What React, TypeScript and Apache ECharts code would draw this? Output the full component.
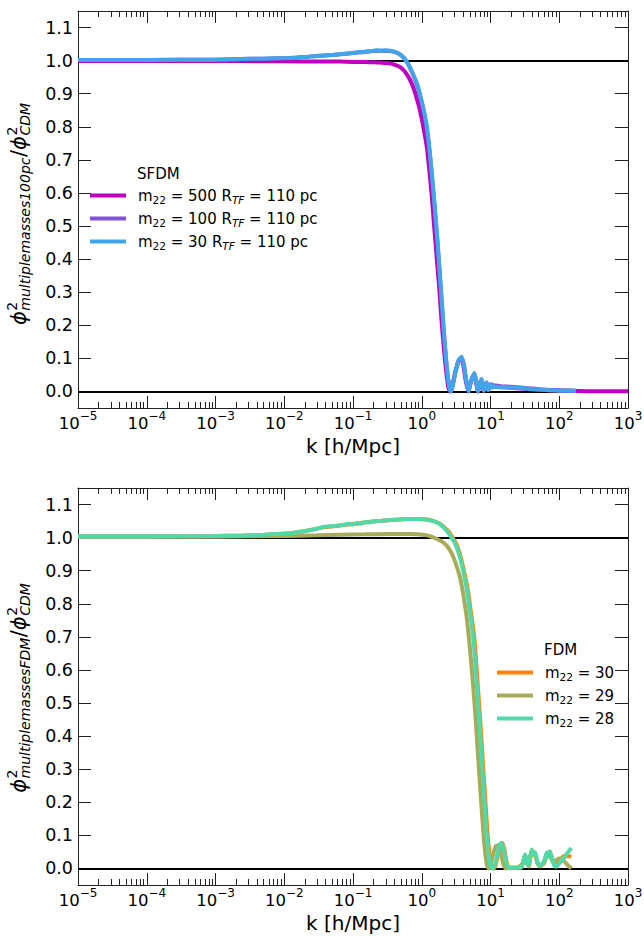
import React, { useEffect, useRef } from 'react';
import * as echarts from 'echarts';

const FONT = 'DejaVu Sans';

// ---- axes / ticks ----
const xMajorTicks = [1e-5, 1e-4, 1e-3, 1e-2, 1e-1, 1, 10, 100, 1000];
const minorMultipliers = [2, 3, 4, 5, 6, 7, 8, 9];
const xMinorTicks = xMajorTicks.slice(0, -1).flatMap((d) => minorMultipliers.map((m) => m * d));
const yTicks = [0, 0.1, 0.2, 0.3, 0.4, 0.5, 0.6, 0.7, 0.8, 0.9, 1.0, 1.1];
const refLines = [0, 1];

// ---- top panel: SFDM ----
const sfdmTitle = 'SFDM';
const sfdmNames = ['m22=500', 'm22=100', 'm22=30'];
const sfdmMass = ['500', '100', '30'];
const sfdmColors = ['#c000c0', '#8052d4', '#42a5e9'];

const sfdm500: [number, number][] = [
  [1e-5, 0.999], [1e-4, 0.999], [1e-3, 0.999], [5e-3, 0.998], [1e-2, 0.998], [3e-2, 0.997], [6.5e-2, 0.997],
  [0.1, 0.996], [0.15, 0.996], [0.2, 0.995], [0.25, 0.994], [0.31, 0.993], [0.36, 0.991], [0.42, 0.986],
  [0.48, 0.981], [0.55, 0.97], [0.63, 0.953], [0.7, 0.935], [0.78, 0.91], [0.86, 0.88], [0.94, 0.85],
  [1.03, 0.81], [1.12, 0.77], [1.2, 0.73], [1.3, 0.66], [1.4, 0.59], [1.5, 0.51], [1.6, 0.44], [1.7, 0.37],
  [1.8, 0.31], [1.9, 0.24], [2.0, 0.18], [2.1, 0.13], [2.2, 0.085], [2.3, 0.05], [2.4, 0.02], [2.5, 0.005],
  [2.6, 0.0], [2.75, 0.012], [3.05, 0.055], [3.4, 0.09], [3.75, 0.1], [4.05, 0.075], [4.4, 0.028], [4.75, 0.0],
  [5.15, 0.028], [5.75, 0.052], [6.15, 0.028], [6.55, 0.0], [6.95, 0.02], [7.35, 0.035], [7.65, 0.018],
  [7.95, 0.002], [8.35, 0.016], [8.75, 0.025], [9.0, 0.014], [9.25, 0.004], [9.65, 0.014], [10.1, 0.019],
  [10.6, 0.012], [11.1, 0.015], [12, 0.014], [14, 0.013], [18, 0.012], [24, 0.01], [32, 0.008], [45, 0.006],
  [65, 0.004], [100, 0.003], [150, 0.002], [250, 0.001], [500, 0.0005], [1000, 0.0003],
];

const sfdm100: [number, number][] = [
  [1e-5, 1.002], [1e-4, 1.002], [1e-3, 1.003], [2.3e-3, 1.005], [5e-3, 1.006], [1.2e-2, 1.008], [2e-2, 1.011],
  [3.3e-2, 1.015], [5e-2, 1.017], [6.5e-2, 1.019], [0.1, 1.023], [0.14, 1.026], [0.19, 1.029], [0.26, 1.03],
  [0.35, 1.029], [0.45, 1.022], [0.55, 1.008], [0.66, 0.982], [0.8, 0.942], [0.94, 0.896], [1.12, 0.825],
  [1.3, 0.725], [1.5, 0.585], [1.7, 0.445], [1.9, 0.305], [2.1, 0.175], [2.3, 0.078], [2.5, 0.017], [2.65, 0.0],
  [2.8, 0.016], [3.1, 0.06], [3.45, 0.094], [3.8, 0.102], [4.1, 0.08], [4.45, 0.032], [4.8, 0.002], [5.2, 0.03],
  [5.8, 0.054], [6.2, 0.031], [6.6, 0.003], [7.0, 0.023], [7.4, 0.037], [7.7, 0.021], [8.0, 0.005], [8.4, 0.02],
  [8.8, 0.027], [9.3, 0.008], [9.7, 0.018], [10.2, 0.022], [11, 0.019], [12, 0.018], [14, 0.016], [20, 0.014],
  [30, 0.011], [50, 0.007], [100, 0.004], [175, 0.002],
];

const sfdm30: [number, number][] = [
  [1e-5, 1.002], [1e-4, 1.002], [1e-3, 1.003], [2.3e-3, 1.005], [5e-3, 1.006], [1.2e-2, 1.008], [2e-2, 1.011],
  [3.3e-2, 1.015], [5e-2, 1.017], [6.5e-2, 1.019], [0.085, 1.022], [0.1, 1.023], [0.12, 1.026], [0.14, 1.025],
  [0.16, 1.028], [0.19, 1.029], [0.22, 1.031], [0.26, 1.03], [0.3, 1.031], [0.35, 1.03], [0.4, 1.027],
  [0.45, 1.023], [0.5, 1.017], [0.55, 1.009], [0.6, 0.998], [0.66, 0.984], [0.73, 0.964], [0.8, 0.945],
  [0.87, 0.925], [0.94, 0.9], [1.03, 0.865], [1.12, 0.83], [1.2, 0.795], [1.3, 0.73], [1.4, 0.66], [1.5, 0.59],
  [1.6, 0.52], [1.7, 0.45], [1.8, 0.38], [1.9, 0.31], [2.0, 0.245], [2.1, 0.18], [2.2, 0.127], [2.3, 0.08],
  [2.4, 0.045], [2.5, 0.018], [2.65, 0.0], [2.8, 0.015], [3.1, 0.06], [3.45, 0.095], [3.8, 0.105], [4.1, 0.08],
  [4.45, 0.03], [4.8, 0.0], [5.2, 0.03], [5.8, 0.056], [6.2, 0.03], [6.6, 0.0], [7.0, 0.022], [7.4, 0.038],
  [7.7, 0.02], [8.0, 0.002], [8.4, 0.018], [8.8, 0.027], [9.05, 0.015], [9.3, 0.004], [9.7, 0.015], [10.2, 0.02],
  [10.7, 0.012], [11.2, 0.016], [12, 0.014], [14, 0.013], [18, 0.012], [24, 0.011], [32, 0.009], [41, 0.007],
  [60, 0.005], [90, 0.003], [130, 0.002], [175, 0.002],
];

// ---- bottom panel: FDM ----
const fdmTitle = 'FDM';
const fdmNames = ['m22=30 FDM', 'm22=29 FDM', 'm22=28 FDM'];
const fdmMass = ['30', '29', '28'];
const fdmColors = ['#ff8500', '#a8ab58', '#52d9a9'];

const fdm30: [number, number][] = [
  [1e-5, 1.004], [1e-4, 1.004], [1e-3, 1.005], [2.3e-3, 1.006], [5e-3, 1.009], [1.2e-2, 1.013], [2e-2, 1.02],
  [3.7e-2, 1.031], [5.5e-2, 1.035], [8.5e-2, 1.04], [0.12, 1.043], [0.15, 1.046], [0.19, 1.049], [0.26, 1.051],
  [0.4, 1.054], [0.6, 1.056], [0.9, 1.056], [1.2, 1.055], [1.5, 1.05], [1.8, 1.043], [2.1, 1.032], [2.5, 1.016],
  [2.8, 1.0], [3.1, 0.985], [3.4, 0.965], [3.7, 0.94], [4.1, 0.9], [4.65, 0.845], [5.15, 0.78], [5.8, 0.7],
  [6.3, 0.6], [6.8, 0.5], [7.45, 0.38], [7.85, 0.3], [8.15, 0.25], [8.7, 0.16], [9.1, 0.097], [9.6, 0.05],
  [10.1, 0.018], [10.6, 0.002], [11.1, 0.0], [11.8, 0.008], [12.8, 0.04], [13.9, 0.072], [14.9, 0.077],
  [15.9, 0.058], [17.1, 0.02], [18.5, 0.002], [25, 0.003], [30, 0.018], [32, 0.04], [34, 0.02], [36, 0.006],
  [40, 0.055], [44, 0.045], [48, 0.018], [53, 0.006], [60, 0.02], [66, 0.045], [73, 0.05], [80, 0.025],
  [90, 0.01], [100, 0.02], [115, 0.037], [130, 0.037], [150, 0.037],
];

const fdm29: [number, number][] = [
  [1e-5, 1.002], [1e-4, 1.002], [1e-3, 1.003], [1e-2, 1.005], [3e-2, 1.007], [6.5e-2, 1.009], [0.15, 1.01],
  [0.35, 1.011], [0.7, 1.011], [1.05, 1.009], [1.35, 1.004], [1.66, 0.996], [2.0, 0.987], [2.3, 0.976],
  [2.6, 0.96], [2.9, 0.94], [3.2, 0.915], [3.6, 0.88], [4.0, 0.83], [4.5, 0.76], [5.0, 0.67], [5.5, 0.57],
  [6.0, 0.47], [6.5, 0.36], [7.0, 0.26], [7.5, 0.17], [8.0, 0.09], [8.5, 0.035], [9.0, 0.006], [9.4, 0.0],
  [10, 0.01], [11, 0.045], [12, 0.068], [13, 0.07], [14, 0.05], [15.3, 0.015], [16.5, 0.0], [20, 0.002],
  [28, 0.003], [31, 0.035], [34, 0.012], [40, 0.05], [45, 0.04], [50, 0.01], [60, 0.015], [66, 0.04],
  [73, 0.045], [80, 0.02], [90, 0.025], [100, 0.03], [112, 0.027], [130, 0.012], [150, 0.0],
];

const fdm28: [number, number][] = [
  [1e-5, 1.004], [1e-4, 1.004], [1e-3, 1.005], [2.3e-3, 1.006], [5e-3, 1.009], [1.2e-2, 1.013], [2e-2, 1.02],
  [3e-2, 1.027], [3.7e-2, 1.032], [4.5e-2, 1.034], [5.5e-2, 1.035], [7e-2, 1.038], [8.5e-2, 1.041], [0.1, 1.04],
  [0.115, 1.044], [0.13, 1.042], [0.15, 1.047], [0.17, 1.046], [0.19, 1.049], [0.22, 1.05], [0.26, 1.051],
  [0.3, 1.052], [0.4, 1.054], [0.6, 1.056], [0.9, 1.056], [1.2, 1.054], [1.5, 1.049], [1.8, 1.042], [2.1, 1.03],
  [2.4, 1.016], [2.7, 1.0], [3.0, 0.985], [3.3, 0.965], [3.6, 0.94], [4.0, 0.9], [4.5, 0.845], [5.0, 0.78],
  [5.6, 0.7], [6.1, 0.6], [6.6, 0.5], [7.2, 0.38], [7.6, 0.3], [7.9, 0.25], [8.4, 0.16], [8.8, 0.097],
  [9.3, 0.05], [9.8, 0.018], [10.3, 0.002], [10.8, 0.0], [11.5, 0.008], [12.5, 0.04], [13.6, 0.072],
  [14.6, 0.077], [15.6, 0.058], [16.8, 0.02], [18.2, 0.002], [20, 0.002], [25, 0.003], [28, 0.003], [30, 0.02],
  [31.8, 0.042], [33.5, 0.025], [35.6, 0.008], [37.5, 0.03], [39.8, 0.057], [42, 0.04], [44.6, 0.048],
  [46.5, 0.035], [48.3, 0.02], [53, 0.008], [58, 0.016], [62, 0.03], [66, 0.048], [69, 0.035], [73, 0.052],
  [76, 0.04], [80, 0.027], [85, 0.008], [90.6, 0.005], [100, 0.015], [115, 0.03], [130, 0.045], [150, 0.062],
];

const axisColor = '#222';
const powRich = {
  b: { fontFamily: FONT, fontSize: 16.5, color: '#000', lineHeight: 28 },
  s: { fontFamily: FONT, fontSize: 12, color: '#000', lineHeight: 13, verticalAlign: 'top' },
};
const fmtPow = (v: number) => {
  const e = Math.round(Math.log10(v));
  const t = e < 0 ? '\u2212' + String(-e) : String(e);
  return `{b|10}{s|${t}}`;
};

const legendRich = {
  b: { fontFamily: FONT, fontSize: 15, color: '#000', lineHeight: 20 },
  s: { fontFamily: FONT, fontSize: 10.5, color: '#000', lineHeight: 10, verticalAlign: 'bottom' },
  si: { fontFamily: FONT, fontSize: 10.5, fontStyle: 'italic', color: '#000', lineHeight: 10, verticalAlign: 'bottom' },
};

function xAxes(g: number) {
  const common: any = {
    type: 'log', logBase: 10, gridIndex: g, min: 1e-5, max: 1e3,
    splitLine: { show: false }, minorTick: { show: false }, axisPointer: { show: false },
  };
  const line = { show: true, onZero: false, lineStyle: { color: axisColor, width: 1 } };
  const major = { show: true, inside: true, length: 12, customValues: xMajorTicks, lineStyle: { color: axisColor, width: 1 } };
  const minor = { show: true, inside: true, length: 6, customValues: xMinorTicks, lineStyle: { color: axisColor, width: 1 } };
  return [
    {
      ...common, position: 'bottom', axisLine: line, axisTick: major,
      axisLabel: { show: true, customValues: xMajorTicks, margin: 1.5, formatter: fmtPow, rich: powRich },
      name: 'k [h/Mpc]', nameLocation: 'middle', nameGap: 28,
      nameTextStyle: { fontFamily: FONT, fontSize: 20, color: '#000' },
    },
    { ...common, position: 'bottom', axisLine: { show: false, onZero: false }, axisTick: minor, axisLabel: { show: false } },
    { ...common, position: 'top', axisLine: line, axisTick: major, axisLabel: { show: false } },
    { ...common, position: 'top', axisLine: { show: false, onZero: false }, axisTick: minor, axisLabel: { show: false } },
  ];
}

function yAxes(g: number) {
  const common: any = {
    type: 'value', gridIndex: g, min: -0.05, max: 1.15,
    splitLine: { show: false }, axisPointer: { show: false },
    axisLine: { show: true, onZero: false, lineStyle: { color: axisColor, width: 1 } },
    axisTick: { show: true, inside: true, length: 13, customValues: yTicks, lineStyle: { color: axisColor, width: 1 } },
  };
  return [
    {
      ...common, position: 'left',
      axisLabel: {
        show: true, customValues: yTicks, margin: 5, fontFamily: FONT, fontSize: 17.5, color: '#000',
        formatter: (v: number) => v.toFixed(1),
      },
    },
    { ...common, position: 'right', axisLabel: { show: false } },
  ];
}

function curve(name: string, data: [number, number][], color: string, xi: number, yi: number) {
  return {
    type: 'line', name, data, xAxisIndex: xi, yAxisIndex: yi,
    showSymbol: false, symbol: 'none', smooth: 0.2, clip: true, z: 3,
    lineStyle: { color, width: 4 }, itemStyle: { color }, emphasis: { disabled: true },
  };
}

function refSeries(xi: number, yi: number) {
  return {
    type: 'line', name: 'ref' + xi, data: [], xAxisIndex: xi, yAxisIndex: yi, z: 2,
    markLine: {
      silent: true, z: 2, symbol: ['none', 'none'], label: { show: false },
      lineStyle: { color: '#000', width: 2, type: 'solid' },
      emphasis: { disabled: true },
      data: refLines.map((v) => ({ yAxis: v })),
    },
  };
}

function measure(text: string, font: string): number {
  const ctx = document.createElement('canvas').getContext('2d');
  if (!ctx) return text.length * 8;
  ctx.font = font;
  return ctx.measureText(text).width;
}

function yLabel(sub: string, baselineX: number, centerY: number) {
  const mainSize = 21;
  const supSize = 14;
  const subSize = 14;
  const PHI = '\u03d5';
  const fMain = `italic ${mainSize}px "${FONT}"`;
  const fSub = `italic ${subSize}px "${FONT}"`;
  const fSup = `${supSize}px "${FONT}"`;
  const fSlash = `${mainSize}px "${FONT}"`;
  const wPhi = measure(PHI, fMain);
  const wSub = measure(sub, fSub);
  const w2 = measure('2', fSup);
  const wSlash = measure('/', fSlash);
  const wCDM = measure('CDM', fSub);
  const x0 = 0;
  const x1 = x0 + wPhi + 0.5;
  const x2 = x1 + Math.max(wSub, w2) + 0.5;
  const x3 = x2 + wSlash;
  const x4 = x3 + wPhi + 0.5;
  const total = x4 + Math.max(wCDM, w2);
  const mainY = -0.346 * mainSize;
  const supY = -9 - 0.346 * supSize;
  const subY = 4 - 0.346 * subSize;
  const t = (text: string, x: number, y: number, size: number, italic: boolean) => ({
    type: 'text', x, y,
    style: {
      text, fontFamily: FONT, fontSize: size, fontStyle: italic ? 'italic' : 'normal',
      fill: '#000', align: 'left', verticalAlign: 'middle',
    },
  });
  return {
    type: 'group', x: baselineX, y: centerY + total / 2, rotation: Math.PI / 2, silent: true,
    children: [
      t(PHI, x0, mainY, mainSize, true),
      t('2', x1, supY, supSize, false),
      t(sub, x1, subY, subSize, true),
      t('/', x2, mainY, mainSize, false),
      t(PHI, x3, mainY, mainSize, true),
      t('2', x4, supY, supSize, false),
      t('CDM', x4, subY, subSize, true),
    ],
  };
}

export default function App() {
  const ref = useRef<HTMLDivElement>(null);
  useEffect(() => {
    if (!ref.current) return;
    const chart = echarts.init(ref.current, undefined, { renderer: 'svg' });
    const sfdmData = [sfdm500, sfdm100, sfdm30];
    const fdmData = [fdm30, fdm29, fdm28];
    const labelMap: Record<string, string> = {};
    sfdmNames.forEach((n, i) => {
      labelMap[n] = `{b|m}{s|22}{b| = ${sfdmMass[i]} R}{si|TF}{b| = 110 pc}`;
    });
    fdmNames.forEach((n, i) => {
      labelMap[n] = `{b|m}{s|22}{b| = ${fdmMass[i]}}`;
    });
    const legendCommon: any = {
      orient: 'vertical', padding: 0, itemWidth: 36, itemHeight: 4, itemGap: 5.5, icon: 'rect',
      selectedMode: false, formatter: (n: string) => labelMap[n] || n,
      textStyle: { fontFamily: FONT, fontSize: 15, color: '#000', padding: [0, 0, 0, 7], rich: legendRich },
    };
    const titleStyle = { fontFamily: FONT, fontSize: 15, fill: '#000', align: 'left', verticalAlign: 'middle' };
    const option: any = {
      animation: false,
      backgroundColor: '#fff',
      textStyle: { fontFamily: FONT },
      grid: [
        { left: 78, top: 11, width: 550, height: 397, containLabel: false, outerBoundsMode: 'none' },
        { left: 78, top: 488, width: 550, height: 397, containLabel: false, outerBoundsMode: 'none' },
      ],
      xAxis: [...xAxes(0), ...xAxes(1)],
      yAxis: [...yAxes(0), ...yAxes(1)],
      legend: [
        { ...legendCommon, data: sfdmNames, left: 90, top: 188 },
        { ...legendCommon, data: fdmNames, left: 497, top: 665 },
      ],
      series: [
        refSeries(0, 0),
        ...sfdmNames.map((n, i) => curve(n, sfdmData[i], sfdmColors[i], 0, 0)),
        refSeries(4, 2),
        ...fdmNames.map((n, i) => curve(n, fdmData[i], fdmColors[i], 4, 2)),
      ],
      graphic: [
        { type: 'text', x: 137, y: 174, silent: true, style: { text: sfdmTitle, ...titleStyle } },
        { type: 'text', x: 544, y: 650, silent: true, style: { text: fdmTitle, ...titleStyle } },
        yLabel('multiplemasses100pc', 26, 214),
        yLabel('multiplemassesFDM', 26, 688),
      ],
    };
    chart.setOption(option);
    return () => chart.dispose();
  }, []);
  return <div ref={ref} style={{ width: 644, height: 936, position: 'absolute', left: 0, top: 0 }} />;
}
